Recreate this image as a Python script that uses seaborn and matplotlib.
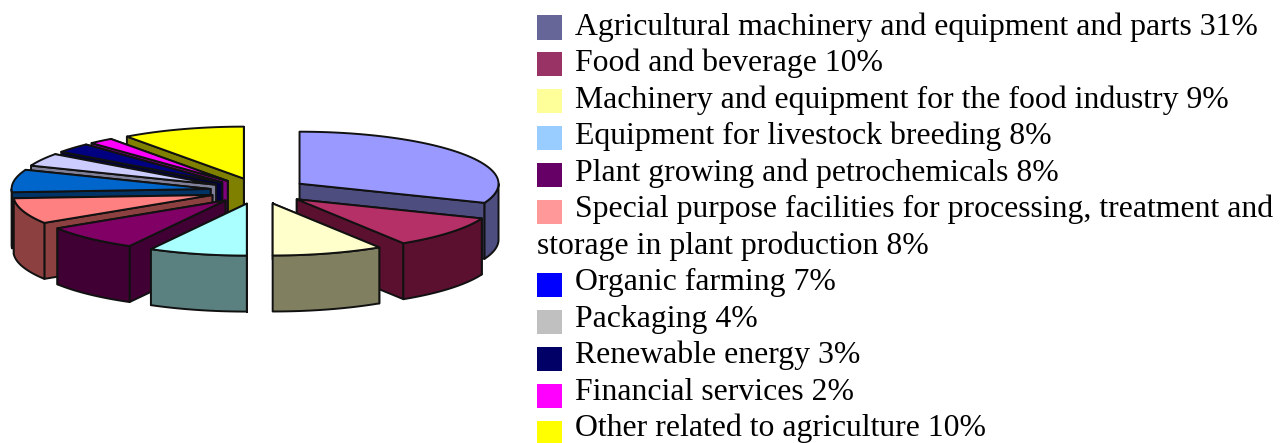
import numpy as np
import matplotlib
matplotlib.use('Agg')
import matplotlib.pyplot as plt
import seaborn as sns

# values and labels
sectors = ['Agricultural machinery and equipment and parts', 'Food and beverage',
           'Machinery and equipment for the food industry', 'Equipment for livestock breeding',
           'Plant growing and petrochemicals',
           'Special purpose facilities for processing, treatment and\nstorage in plant production',
           'Organic farming', 'Packaging', 'Renewable energy', 'Financial services',
           'Other related to agriculture']
shares = [31, 10, 9, 8, 8, 8, 7, 4, 3, 2, 10]
legend_colors = ['#666699', '#993366', '#FFFF99', '#99CCFF', '#660066', '#FF9999',
                 '#0000FF', '#C0C0C0', '#000066', '#FF00FF', '#FFFF00']
top_colors = ['#9999FF', '#B53067', '#FFFFCC', '#AAFFFF', '#800066', '#FF8080',
              '#0066CC', '#CCCCFF', '#000080', '#FF00FF', '#FFFF00']
side_colors = ['#4D4D80', '#5C1030', '#808060', '#5A8080', '#400033', '#8C4040',
               '#003366', '#808099', '#000040', '#800080', '#808000']

CX, CY = 259, 191        # pie centre in pixels
RX, RY = 199, 52         # ellipse radii
EX, EY = 49, 13          # explosion offset
DEPTH = 56

sns.set_theme(style='white')
plt.rcParams['font.family'] = ['Liberation Serif', 'DejaVu Serif']

fig = plt.figure(figsize=(12.86, 4.43), dpi=100)
ax = fig.add_axes([0, 0, 1, 1])
ax.set_xlim(0, 1286)
ax.set_ylim(443, 0)
ax.axis('off')


def ring(theta, x0, y0):
    # angle runs clockwise from north
    return x0 + RX * np.sin(theta), y0 - RY * np.cos(theta)


def face(xs, ys, color, z):
    ax.fill(xs, ys, facecolor=color, edgecolor='#111111', linewidth=1.4, joinstyle='round', zorder=z)


# 3D pie: slices built from the shares, painted back to front
edges = np.radians(np.concatenate([[0], np.cumsum(shares)]) * 3.6)
mids = (edges[:-1] + edges[1:]) / 2
order = np.argsort(-np.cos(mids))

for rank, i in enumerate(order):
    a0, a1, mid = edges[i], edges[i + 1], mids[i]
    x0 = CX + EX * np.sin(mid)
    y0 = CY - EY * np.cos(mid)
    z = 2 + rank * 0.1

    # cut faces, the hidden one first
    cuts = [a0, a1] if mid < np.pi else [a1, a0]
    for c in cuts:
        xe, ye = ring(c, x0, y0)
        face([x0, xe, xe, x0], [y0, ye, ye + DEPTH, y0 + DEPTH], side_colors[i], z)

    # outer wall, only the part facing the viewer
    w0, w1 = max(a0, np.pi / 2), min(a1, 3 * np.pi / 2)
    if w1 > w0:
        t = np.linspace(w0, w1, 60)
        xw, yw = ring(t, x0, y0)
        face(np.r_[xw, xw[::-1]], np.r_[yw, yw[::-1] + DEPTH], side_colors[i], z)

    # top
    t = np.linspace(a0, a1, 80)
    xt, yt = ring(t, x0, y0)
    face(np.r_[x0, xt], np.r_[y0, yt], top_colors[i], z)

# legend, one line of text per row
# text step is a bit tighter than the swatches so the last line's descenders stay inside
BASE, STEP = 34.8, 36.5
SW_BASE, SW_STEP = 27.5, 36.85
FONT = 22.85
row = 0
swatch_y = []
for name, share in zip(sectors, shares):
    lines = f'{name} {share}%'.split('\n')
    swatch_y.append(SW_BASE + row * SW_STEP)
    ax.text(575, BASE + row * STEP, lines[0], fontsize=FONT, color='black', va='baseline', ha='left')
    row += 1
    for extra in lines[1:]:
        ax.text(537, BASE + row * STEP, extra, fontsize=FONT, color='black', va='baseline', ha='left')
        row += 1

sns.scatterplot(x=[549.5] * len(sectors), y=swatch_y, hue=sectors, palette=legend_colors,
                marker='s', s=300, linewidth=0, legend=False, ax=ax, clip_on=False)
ax.set_xlim(0, 1286)
ax.set_ylim(443, 0)

fig.savefig('out.png', dpi=100)
